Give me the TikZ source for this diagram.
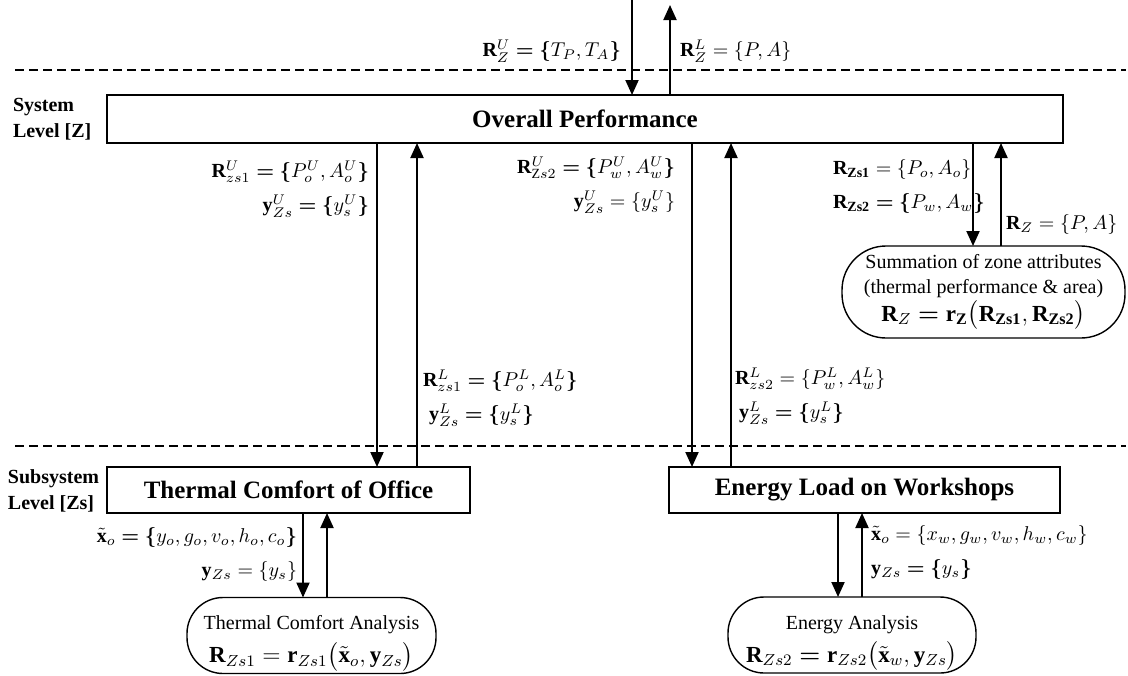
\documentclass[tikz,border=0pt]{standalone}
\usepackage{amsmath, bm}
\usepackage{fontspec}
\setmainfont{Liberation Serif}[BoldFont={Liberation Serif Bold}, ItalicFont={Liberation Serif Italic}, BoldItalicFont={Liberation Serif Bold Italic}]
\usetikzlibrary{arrows.meta, positioning}
\newcommand{\lbr}{\bm{\{}}
\newcommand{\rbr}{\bm{\}}}
\newcommand{\beq}{\mathrel{\bm{=}}}

\begin{document}
\begin{tikzpicture}[
		x=0.5pt, y=-0.5pt,
		>={Triangle[length=7.5pt,width=6.5pt]},
		every node/.style={inner sep=0pt, outer sep=0pt},
		level/.style={draw, rectangle, line width=0.8pt, minimum height=23pt, align=center, font=\fontsize{12.5}{15}\selectfont\bfseries},
		ana/.style={draw, rectangle, rounded corners=18pt, line width=0.7pt, inner sep=0.5pt, align=center, font=\fontsize{10}{12.5}\selectfont},
		flow/.style={->, line width=1pt},
		sep/.style={dash pattern=on 4.5pt off 2.5pt, line width=1.3pt},
		sig/.style={font=\fontsize{10}{17}\selectfont},
		tag/.style={anchor=west, align=left, font=\fontsize{10}{13}\selectfont\bfseries}
		]
		\useasboundingbox (0,0) rectangle (1128,675);
		
		% --- Level separators ---
		\coordinate (sepl) at (15,70);
		\coordinate (sepr) at (1126,70);
		\draw[sep] (sepl) -- (sepr);
		\draw[sep] ([yshift=-188pt]sepl) -- ([yshift=-188pt]sepr);
		
		% --- Level tags ---
		\node[tag] (systag) at (13,119) {System\\Level [Z]};
		\node[tag] (subtag) at (8,491) {Subsystem\\Level [Zs]};
		
		% --- Boxes ---
		\node[level, minimum width=478pt, minimum height=24pt] (overall) at (585,119) {Overall Performance};
		\node[level, minimum width=181.5pt] (office) at (288.5,490) {Thermal Comfort of Office};
		\node[level, minimum width=195.5pt] (workshop) at (864.5,490) {Energy Load on Workshops};
		\node[ana, rounded corners=22pt, minimum width=141.5pt, minimum height=46pt] (summ) at (983.5,292)
			{Summation of zone attributes\\(thermal performance \& area)\\[1.5pt]
			{\fontsize{11.5}{14}\selectfont $\mathbf{R}_{Z}\beq\mathbf{r}_{\mathbf{Z}}\bigl(\mathbf{R}_{\mathbf{Zs1}},\mathbf{R}_{\mathbf{Zs2}}\bigr)$}};
		\node[ana, minimum width=124.5pt, minimum height=38pt] (tca) at (311.5,635.5)
			{\rule{0pt}{15pt}Thermal Comfort Analysis\\[4pt]
			{\fontsize{11.5}{17}\selectfont $\mathbf{R}_{Zs1}=\mathbf{r}_{Zs1}\bigl(\tilde{\mathbf{x}}_{o},\mathbf{y}_{Zs}\bigr)$}};
		\node[ana, minimum width=124pt, minimum height=38pt] (ea) at (852,635)
			{\rule{0pt}{15pt}Energy Analysis\\[4pt]
			{\fontsize{11.5}{17}\selectfont $\mathbf{R}_{Zs2}\beq\mathbf{r}_{Zs2}\bigl(\tilde{\mathbf{x}}_{w},\mathbf{y}_{Zs}\bigr)$}};
		
		% --- Arrow lanes ---
		\coordinate (topin) at (632,0);
		\coordinate (topout) at (670,5);
		\coordinate (odown) at (377,0);
		\coordinate (oup) at (417,0);
		\coordinate (wdown) at (692,0);
		\coordinate (wup) at (731,0);
		\coordinate (sdown) at (973,0);
		\coordinate (sup) at (1001,0);
		\coordinate (adown) at (303,0);
		\coordinate (aup) at (327,0);
		\coordinate (edown) at (838,0);
		\coordinate (eup) at (862,0);
		
		% --- System level edges ---
		\draw[flow] (topin) -- (topin |- overall.north);
		\draw[flow] (topout |- overall.north) -- (topout);
		\draw[flow] (sdown |- overall.south) -- (sdown |- summ.north);
		\draw[flow] (sup |- summ.north) -- (sup |- overall.south);
		
		% --- Between levels ---
		\draw[flow] (odown |- overall.south) -- (odown |- office.north);
		\draw[flow] (oup |- office.north) -- (oup |- overall.south);
		\draw[flow] (wdown |- overall.south) -- (wdown |- workshop.north);
		\draw[flow] (wup |- workshop.north) -- (wup |- overall.south);
		
		% --- Subsystem edges ---
		\draw[flow] (adown |- office.south) -- (adown |- tca.north);
		\draw[flow] (aup |- tca.north) -- (aup |- office.south);
		\draw[flow] (edown |- workshop.south) -- (edown |- ea.north);
		\draw[flow] (eup |- ea.north) -- (eup |- workshop.south);
		
		% --- Signal labels ---
		\node[sig, anchor=east] (rzu) at (621,51) {$\mathbf{R}^{U}_{Z}\beq\lbr T_{P},T_{A}\rbr$};
		\node[sig, anchor=west] (rzl) at (680,51) {$\mathbf{R}^{L}_{Z}=\{P,A\}$};
		\node[sig, anchor=east, align=right] (ro1) at (369,189)
			{$\mathbf{R}^{U}_{zs1}\beq\lbr P^{U}_{o},A^{U}_{o}\rbr$\\$\mathbf{y}^{U}_{Zs}\beq\lbr y^{U}_{s}\rbr$};
		\node[sig, anchor=east, align=right] (rw1) at (675,185)
			{$\mathbf{R}^{U}_{\mathrm{Z}s2}\beq\lbr P^{U}_{w},A^{U}_{w}\rbr$\\$\mathbf{y}^{U}_{Zs}=\{y^{U}_{s}\}$};
		\node[sig, anchor=west, align=left] (rsum) at (833,186)
			{$\mathbf{R}_{\mathbf{Zs1}}=\{P_{o},A_{o}\}$\\$\mathbf{R}_{\mathbf{Zs2}}\beq\lbr P_{w},A_{w}\rbr$};
		\node[sig, anchor=west] (rz) at (1006,224) {$\mathbf{R}_{Z}=\{P,A\}$};
		\node[sig, anchor=west, align=left] (ro2) at (423,398)
			{$\mathbf{R}^{L}_{zs1}\beq\lbr P^{L}_{o},A^{L}_{o}\rbr$\\\hspace{3pt}$\mathbf{y}^{L}_{Zs}\beq\lbr y^{L}_{s}\rbr$};
		\node[sig, anchor=west, align=left] (rw2) at (735,396)
			{$\mathbf{R}^{L}_{zs2}=\{P^{L}_{w},A^{L}_{w}\}$\\\hspace{2pt}$\mathbf{y}^{L}_{Zs}\beq\lbr y^{L}_{s}\rbr$};
		\node[sig, anchor=east, align=right] (xo) at (297,554)
			{$\tilde{\mathbf{x}}_{o}\beq\lbr y_{o},g_{o},v_{o},h_{o},c_{o}\rbr$\\$\mathbf{y}_{Zs}=\{y_{s}\}$};
		\node[sig, anchor=west, align=left] (xw) at (871,552)
			{$\tilde{\mathbf{x}}_{o}=\{x_{w},g_{w},v_{w},h_{w},c_{w}\}$\\$\mathbf{y}_{Zs}\beq\lbr y_{s}\rbr$};
	\end{tikzpicture}
\end{document}
